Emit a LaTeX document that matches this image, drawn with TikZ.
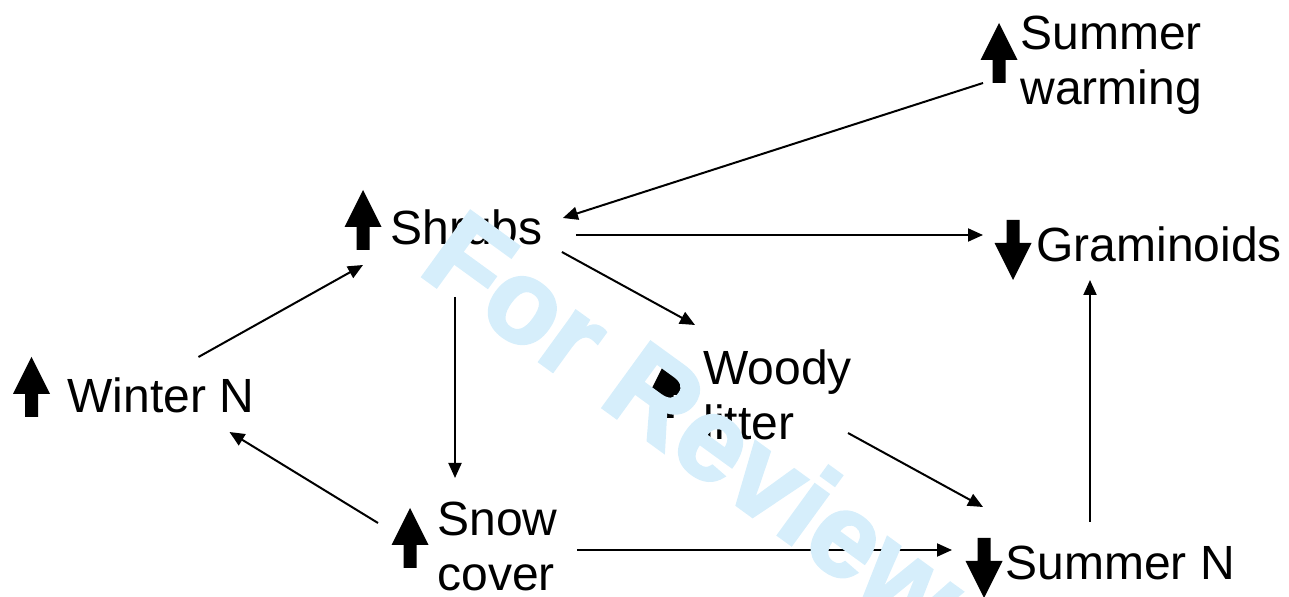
\documentclass[tikz,border=0pt]{standalone}
\usepackage{fontspec}
\setmainfont{Liberation Sans}
\newfontfamily\wmfont[BoldFeatures={FakeBold=2.5}]{Liberation Sans}
\usepackage{tikz}
\usetikzlibrary{arrows.meta}
\definecolor{wmblue}{RGB}{214,238,251}

\tikzset{
  conn/.style={-{Triangle[length=7.5pt,width=6.5pt]},line width=1pt},
  lbl/.style={inner sep=0pt,anchor=base west,align=left,font=\fontsize{24}{27.5}\selectfont},
  wm/.style={inner sep=0pt,anchor=base west,text=wmblue,rotate=-36,font=\wmfont\fontsize{59}{60}\selectfont\bfseries},
  upblk/.pic={\fill (-6.5,0) -- (6.5,0) -- (6.5,-23) -- (18.5,-23) -- (0,-60) -- (-18.5,-23) -- (-6.5,-23) -- cycle;},
  dnblk/.pic={\fill (-6.5,0) -- (6.5,0) -- (6.5,23) -- (18.5,23) -- (0,60) -- (-18.5,23) -- (-6.5,23) -- cycle;}
}

\begin{document}
\begin{tikzpicture}[x=0.5pt,y=-0.5pt]
\useasboundingbox (0,0) rectangle (1289,597);
% labels (base = last line)
\node[lbl] (warm) at (1020,105) {Summer\\warming};
\node[lbl] (gram) at (1036,262) {Graminoids};
\node[lbl] (shrubs) at (390,245) {Shrubs};
\node[lbl] (wint) at (67,413) {Winter N};
\node[lbl] (woody) at (703,440) {Woody\\litter};
\node[lbl] (snow) at (437,590) {Snow\\cover};
\node[lbl] (sumN) at (1005,580) {Summer N};
% up and down signs
\pic at (31.5,417) {upblk};
\pic at (363,250) {upblk};
\pic at (999,83) {upblk};
\pic at (410,568) {upblk};
\pic at (667,418) {upblk};
\pic at (1013,220) {dnblk};
\pic at (984,538) {dnblk};
% links
\draw[conn] ([shift={(-37,-22)}]warm.base west) -- ([shift={(20,-27)}]shrubs.base east);
\draw[conn] ([shift={(33,-10)}]shrubs.base east) -- ([shift={(-53,-27)}]gram.base west);
\draw[conn] ([shift={(19,7)}]shrubs.base east) -- ([shift={(-8,-115)}]woody.base west);
\draw[conn] ([shift={(65,52)}]shrubs.base west) -- ([shift={(18,-112)}]snow.base west);
\draw[conn] ([shift={(-56,-56)}]wint.base east) -- ([shift={(-27,20)}]shrubs.base west);
\draw[conn] ([shift={(-59,-67)}]snow.base west) -- ([shift={(-25,19)}]wint.base east);
\draw[conn] ([shift={(140,-40)}]snow.base west) -- ([shift={(-53,-30)}]sumN.base west);
\draw[conn] ([shift={(145,-7)}]woody.base west) -- ([shift={(-22,-73)}]sumN.base west);
\draw[conn] ([shift={(85,-58)}]sumN.base west) -- ([shift={(54,18)}]gram.base west);
% watermark
\node[wm] (rev) at (416,272) {For Review};
\end{tikzpicture}
\end{document}
